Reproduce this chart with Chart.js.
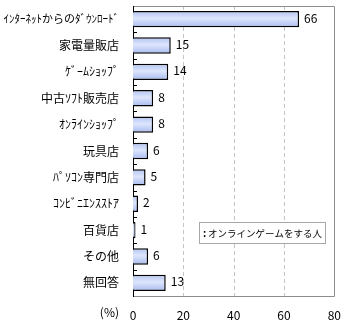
<!DOCTYPE html>
<html>
<head>
<meta charset="utf-8">
<script src="https://cdn.jsdelivr.net/npm/chart.js@4/dist/chart.umd.min.js"></script>
<style>
  html, body { margin: 0; padding: 0; background: #fff; }
  canvas { display: block; }
</style>
</head>
<body>
<canvas id="chart" width="345" height="330"></canvas>
<script>
    // 購入場所（オンラインゲームをする人, %）
    var categories = [
        'ｲﾝﾀｰﾈｯﾄからのﾀﾞｳﾝﾛｰﾄﾞ', '家電量販店', 'ｹﾞｰﾑｼｮｯﾌﾟ', '中古ｿﾌﾄ販売店',
        'ｵﾝﾗｲﾝｼｮｯﾌﾟ', '玩具店', 'ﾊﾟｿｺﾝ専門店', 'ｺﾝﾋﾞﾆｴﾝｽｽﾄｱ',
        '百貨店', 'その他', '無回答'
    ];
    var values = [66, 15, 14, 8, 8, 6, 5, 2, 1, 6, 13];
    var xTicks = [0, 20, 40, 60, 80];
    var seriesName = 'オンラインゲームをする人';
    var unitLabel = '(%)';

    var FONT = '"Noto Sans CJK JP", "Noto Sans", sans-serif';

    // frame, dashed grid and the small ticks on the category axis
    var framePlugin = {
        id: 'frame',
        beforeDatasetsDraw: function (chart) {
            var ctx = chart.ctx;
            var area = chart.chartArea;
            var x = chart.scales.x;
            var y = chart.scales.y;
            ctx.save();
            ctx.lineWidth = 1;

            ctx.strokeStyle = '#c4c4c4';
            ctx.setLineDash([4, 3]);
            xTicks.forEach(function (v) {
                if (v === xTicks[0] || v === xTicks[xTicks.length - 1]) return;
                var px = Math.round(x.getPixelForValue(v)) + 0.5;
                ctx.beginPath();
                ctx.moveTo(px, area.top);
                ctx.lineTo(px, area.bottom);
                ctx.stroke();
            });
            ctx.setLineDash([]);

            ctx.strokeStyle = '#8c8c8c';
            ctx.beginPath();
            ctx.moveTo(area.left, Math.round(area.top) + 0.5);
            ctx.lineTo(Math.round(area.right) + 0.5, Math.round(area.top) + 0.5);
            ctx.lineTo(Math.round(area.right) + 0.5, Math.round(area.bottom) + 0.5);
            ctx.lineTo(area.left, Math.round(area.bottom) + 0.5);
            ctx.stroke();

            ctx.strokeStyle = '#000';
            var left = Math.round(area.left);
            var step = y.getPixelForValue(1) - y.getPixelForValue(0);
            for (var i = 1; i < categories.length; i++) {
                var py = Math.round(y.getPixelForValue(i) - step / 2) + 0.5;
                ctx.beginPath();
                ctx.moveTo(left, py);
                ctx.lineTo(left + 4, py);
                ctx.stroke();
            }
            ctx.beginPath();
            ctx.moveTo(left + 0.5, area.top);
            ctx.lineTo(left + 0.5, Math.round(area.bottom) + 1);
            ctx.stroke();
            ctx.restore();
        },
        afterDatasetsDraw: function (chart) {
            var ctx = chart.ctx;
            var meta = chart.getDatasetMeta(0);
            ctx.save();
            ctx.fillStyle = '#000';
            ctx.font = '12px ' + FONT;
            ctx.textBaseline = 'middle';
            ctx.textAlign = 'left';
            meta.data.forEach(function (bar, i) {
                ctx.fillText(String(values[i]), bar.x + 5, bar.y - 1);
            });

            // unit label left of the value axis
            var x = chart.scales.x;
            ctx.textAlign = 'right';
            ctx.fillText(unitLabel, x.left - 14, 312);

            // series box
            ctx.fillStyle = '#fff';
            ctx.fillRect(199, 222, 126, 21);
            ctx.strokeStyle = '#a8a8a8';
            ctx.lineWidth = 1;
            ctx.strokeRect(199.5, 222.5, 126, 21);
            ctx.fillStyle = '#000';
            ctx.textAlign = 'left';
            ctx.font = 'bold 10px ' + FONT;
            ctx.fillText(':', 203, 233);
            ctx.font = '9.5px ' + FONT;
            ctx.fillText(seriesName, 208, 233);
            ctx.restore();
        }
    };

    var ctx = document.getElementById('chart').getContext('2d');

    new Chart(ctx, {
        type: 'bar',
        data: {
            labels: categories,
            datasets: [{
                label: seriesName,
                data: values,
                backgroundColor: function (context) {
                    var c = context.chart;
                    if (!c.chartArea || !c.scales.y) return '#c8d4f6';
                    var cy = c.scales.y.getPixelForValue(context.dataIndex);
                    if (!isFinite(cy)) return '#c8d4f6';
                    var h = 8;
                    var g = c.ctx.createLinearGradient(0, cy - h, 0, cy + h);
                    g.addColorStop(0, '#b3c4f2');
                    g.addColorStop(0.45, '#dde6fc');
                    g.addColorStop(1, '#a9bbf0');
                    return g;
                },
                borderColor: '#000',
                borderWidth: 1.5,
                borderSkipped: 'left',
                barPercentage: 0.62,
                categoryPercentage: 1.0
            }]
        },
        options: {
            indexAxis: 'y',
            responsive: false,
            animation: false,
            layout: { padding: { left: 0, right: 10, top: 6, bottom: 0 } },
            plugins: {
                legend: { display: false },
                tooltip: { enabled: false }
            },
            scales: {
                x: {
                    min: 0,
                    max: 80,
                    afterFit: function (scale) { scale.height = 34; },
                    grid: { display: false },
                    border: { display: false },
                    ticks: {
                        stepSize: 20,
                        color: '#000',
                        padding: 4,
                        font: { family: FONT, size: 12 }
                    }
                },
                y: {
                    afterFit: function (scale) {
                        scale.width = 133;
                        scale.paddingTop = 0;
                        scale.paddingBottom = 0;
                    },
                    grid: { display: false },
                    border: { display: false },
                    ticks: {
                        color: '#000',
                        padding: 6,
                        font: function (context) {
                            var label = categories[context.index] || '';
                            return { family: FONT, size: label.length > 12 ? 11 : 12 };
                        }
                    }
                }
            }
        },
        plugins: [framePlugin]
    });
</script>
</body>
</html>
